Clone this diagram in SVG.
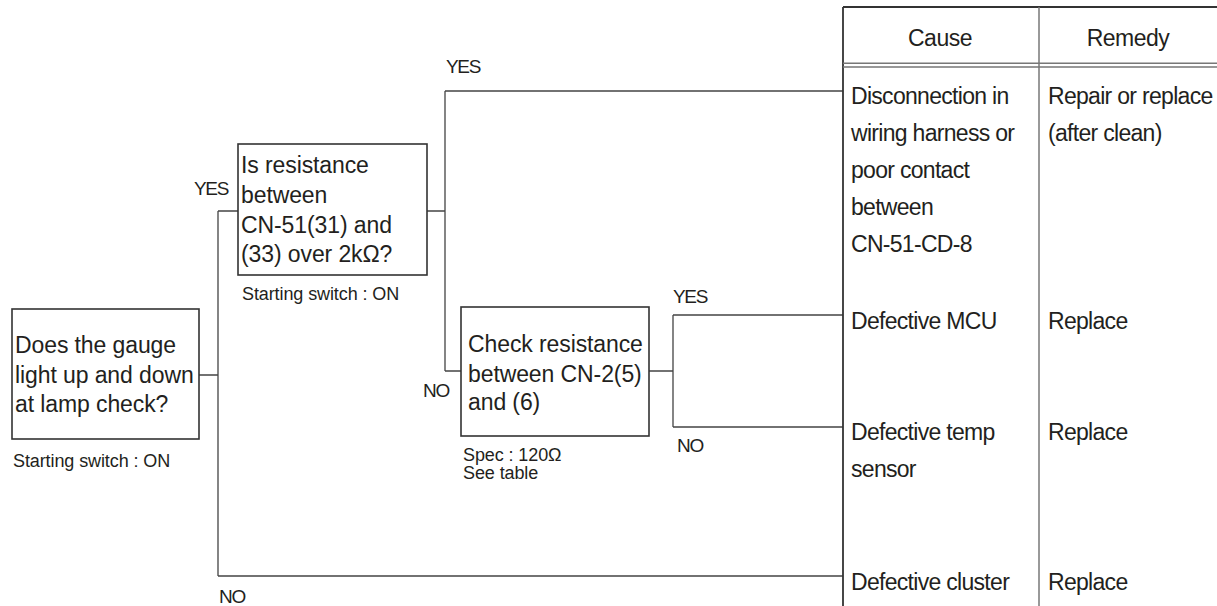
<svg xmlns="http://www.w3.org/2000/svg" width="1217" height="606" viewBox="0 0 1217 606">
<style>
text{font-family:"Liberation Sans",Arial,sans-serif;fill:#231f20}
.box{fill:#fff;stroke:#333;stroke-width:1.6}
.bt{font-size:23px;letter-spacing:-0.1px}
.ct{font-size:23px;letter-spacing:-0.7px}
.hd{font-size:23px;text-anchor:middle;letter-spacing:-0.5px}
.lb{font-size:19px;letter-spacing:-1.3px}
.sm{font-size:18px;letter-spacing:-0.1px}
.ln{fill:none;stroke:#444;stroke-width:1.3}
.tb{fill:none;stroke:#333;stroke-width:1.8}
.tb2{fill:none;stroke:#777;stroke-width:1.5}
</style>
<rect width="1217" height="606" fill="#fff"/>
<g id="connectors">
<path class="ln" d="M199 375H218M218 211V576M218 211H238M218 576H843"/>
<path class="ln" d="M427 211H445M445 91V371M445 91H843M445 371H461"/>
<path class="ln" d="M649 371H673M673 315V427M673 315H843M673 427H843"/>
<text class="lb" x="194" y="195">YES</text>
<text class="lb" x="219" y="603">NO</text>
<text class="lb" x="446" y="73">YES</text>
<text class="lb" x="423" y="397">NO</text>
<text class="lb" x="673" y="303">YES</text>
<text class="lb" x="677" y="452">NO</text>
</g>
<g id="node-gauge">
<rect class="box" x="12" y="309" width="187" height="130"/>
<text class="bt" x="15" y="353">Does the gauge</text>
<text class="bt" x="15" y="383">light up and down</text>
<text class="bt" x="15" y="412">at lamp check?</text>
<text class="sm" x="13" y="467">Starting switch : ON</text>
</g>
<g id="node-resistance">
<rect class="box" x="238" y="144" width="189" height="131"/>
<text class="bt" x="241" y="173">Is resistance</text>
<text class="bt" x="241" y="203">between</text>
<text class="bt" x="241" y="233">CN-51(31) and</text>
<text class="bt" x="241" y="262">(33) over 2kΩ?</text>
<text class="sm" x="242" y="300">Starting switch : ON</text>
</g>
<g id="node-check">
<rect class="box" x="461" y="307" width="188" height="129"/>
<text class="bt" x="468" y="352">Check resistance</text>
<text class="bt" x="468" y="382">between CN-2(5)</text>
<text class="bt" x="468" y="410">and (6)</text>
<text class="sm" x="463" y="461">Spec : 120Ω</text>
<text class="sm" x="463" y="479">See table</text>
</g>
<g id="table">
<path class="tb" d="M843 7V606M843 7H1217"/>
<path class="tb2" d="M1039 7V606"/>
<path class="tb2" d="M843 63.3H1217M843 67H1217"/>
<text class="hd" x="940" y="46">Cause</text>
<text class="hd" x="1128" y="46">Remedy</text>
</g>
<g id="row-disconnection">
<text class="ct" x="851" y="104">Disconnection in</text>
<text class="ct" x="851" y="141">wiring harness or</text>
<text class="ct" x="851" y="178">poor contact</text>
<text class="ct" x="851" y="215">between</text>
<text class="ct" x="851" y="252">CN-51-CD-8</text>
<text class="ct" x="1048" y="104">Repair or replace</text>
<text class="ct" x="1048" y="141">(after clean)</text>
</g>
<g id="row-mcu">
<text class="ct" x="851" y="329">Defective MCU</text>
<text class="ct" x="1048" y="329">Replace</text>
</g>
<g id="row-sensor">
<text class="ct" x="851" y="440">Defective temp</text>
<text class="ct" x="851" y="477">sensor</text>
<text class="ct" x="1048" y="440">Replace</text>
</g>
<g id="row-cluster">
<text class="ct" x="851" y="590">Defective cluster</text>
<text class="ct" x="1048" y="590">Replace</text>
</g>
</svg>
